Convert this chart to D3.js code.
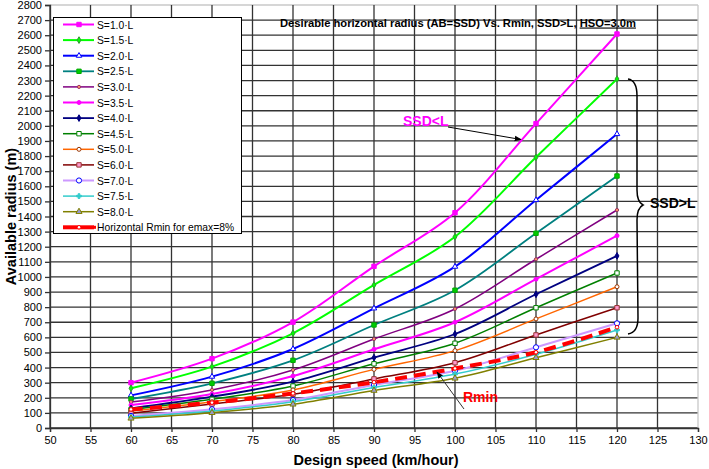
<!DOCTYPE html>
<html>
<head>
<meta charset="utf-8">
<script src="https://cdn.jsdelivr.net/npm/d3@7"></script>
<style>
  body { margin: 0; background: #fff; }
  svg { display: block; font-family: "Liberation Sans", Arial, sans-serif; }
</style>
</head>
<body>
<svg id="chart" width="709" height="469"></svg>
<script>
// design speeds (km/h)
const speeds = [60, 70, 80, 90, 100, 110, 120];

// available radius (m) for each S = k·L
const s10 = [300, 459, 701, 1070, 1425, 2015, 2608];
const s15 = [263, 406, 627, 947, 1266, 1792, 2310];
const s20 = [216, 340, 523, 792, 1068, 1509, 1946];
const s25 = [192, 296, 448, 682, 912, 1289, 1668];
const s30 = [172, 252, 384, 589, 788, 1117, 1443];
const s35 = [152, 225, 344, 521, 700, 985, 1273];
const s40 = [130, 207, 307, 466, 622, 885, 1139];
const s45 = [122, 190, 278, 425, 561, 796, 1026];
const s50 = [112, 174, 252, 388, 512, 722, 935];
const s60 = [97, 159, 223, 325, 432, 616, 796];
const s70 = [80, 124, 185, 285, 379, 534, 693];
const s75 = [72, 113, 174, 268, 357, 488, 649];
const s80 = [64, 101, 157, 248, 329, 465, 600];
const rmin = [123, 168, 229, 303, 394, 501, 667];

const seriesNames = ["S=1.0·L", "S=1.5·L", "S=2.0·L", "S=2.5·L", "S=3.0·L", "S=3.5·L", "S=4.0·L",
                     "S=4.5·L", "S=5.0·L", "S=6.0·L", "S=7.0·L", "S=7.5·L", "S=8.0·L",
                     "Horizontal Rmin for emax=8%"];
const xTicks = d3.range(50, 131, 5);
const yTicks = d3.range(0, 2801, 100);

const svg = d3.select("#chart");
const x = d3.scaleLinear().domain([50, 130]).range([50, 698]);
const y = d3.scaleLinear().domain([0, 2800]).range([428, 5]);

// line style + marker for each series
const styles = [
  { c: "#ff00ff", w: 2,   m: "square",   mf: "#ff00ff", ms: "#ff00ff", r: 2.2 },
  { c: "#00ff00", w: 2,   m: "diamond",  mf: "#00ff00", ms: "#339933", r: 1.8 },
  { c: "#0000ff", w: 2,   m: "triangle", mf: "#ffffff", ms: "#0000ff", r: 1.8 },
  { c: "#008080", w: 1.8, m: "square",   mf: "#00cc00", ms: "#00aa00", r: 2.2 },
  { c: "#800080", w: 1.5, m: "circle",   mf: "#ff9966", ms: "#993366", r: 1.6 },
  { c: "#ff00ff", w: 2,   m: "circle",   mf: "#ff00ff", ms: "#ff00ff", r: 2 },
  { c: "#000080", w: 1.8, m: "diamond",  mf: "#000080", ms: "#000080", r: 1.8 },
  { c: "#008000", w: 1.5, m: "square",   mf: "#ffffff", ms: "#008000", r: 2.2 },
  { c: "#ff6600", w: 1.5, m: "circle",   mf: "#ffffff", ms: "#993300", r: 2 },
  { c: "#800000", w: 1.5, m: "square",   mf: "#ff99cc", ms: "#993333", r: 2.2 },
  { c: "#cc99ff", w: 2,   m: "circle",   mf: "#ffffff", ms: "#0000ff", r: 2.6 },
  { c: "#33cccc", w: 1.5, m: "star",     mf: "#33cccc", ms: "#33cccc", r: 1.8 },
  { c: "#808000", w: 1.5, m: "triangle", mf: "#9999cc", ms: "#808000", r: 2 },
  { c: "#ff0000", w: 4,   m: "circle",   mf: "#ffffff", ms: "#ff0000", r: 1.8, dash: "12,7" }
];
const allSeries = [s10, s15, s20, s25, s30, s35, s40, s45, s50, s60, s70, s75, s80, rmin];

// grid
const grid = svg.append("g");
grid.selectAll("line.h").data(yTicks).enter().append("line")
  .attr("x1", x(50)).attr("x2", x(130))
  .attr("y1", d => y(d)).attr("y2", d => y(d))
  .attr("stroke", d => d === 2800 ? "#c8c8c8" : "#333")
  .attr("stroke-width", 1.3);
grid.selectAll("line.v").data(xTicks).enter().append("line")
  .attr("x1", d => x(d)).attr("x2", d => x(d))
  .attr("y1", y(0)).attr("y2", y(2800))
  .attr("stroke", d => d === 130 ? "#c8c8c8" : "#333")
  .attr("stroke-width", 1.3);

// axes
const yAxis = svg.append("g").attr("transform", `translate(${x(50)},0)`)
  .call(d3.axisLeft(y).tickValues(yTicks).tickSize(5).tickPadding(3).tickFormat(d3.format("d")));
const xAxis = svg.append("g").attr("transform", `translate(0,${y(0)})`)
  .call(d3.axisBottom(x).tickValues(xTicks).tickSize(4).tickPadding(4).tickFormat(d3.format("d")));
[yAxis, xAxis].forEach(a => {
  a.selectAll("path, line").attr("stroke", "#333").attr("stroke-width", 1.3);
  a.selectAll("text").attr("font-size", 11).attr("fill", "#000")
    .attr("font-family", "'Liberation Sans', Arial, sans-serif");
});

svg.append("text")
  .attr("transform", `translate(16,${(y(0) + y(2800)) / 2}) rotate(-90)`)
  .attr("text-anchor", "middle")
  .attr("font-size", 14.5).attr("font-weight", "bold")
  .text("Available radius (m)");
svg.append("text")
  .attr("x", 376).attr("y", 465)
  .attr("text-anchor", "middle")
  .attr("font-size", 14.5).attr("font-weight", "bold")
  .text("Design speed (km/hour)");

// markers
const symbolFor = { square: d3.symbolSquare, diamond: d3.symbolDiamond, triangle: d3.symbolTriangle,
                    circle: d3.symbolCircle, star: d3.symbolCross };
function drawMarker(g, st, cx, cy) {
  const size = st.m === "circle" ? Math.PI * st.r * st.r : (2 * st.r) * (2 * st.r);
  g.append("path")
    .attr("d", d3.symbol().type(symbolFor[st.m]).size(size)())
    .attr("transform", `translate(${cx},${cy})`)
    .attr("fill", st.mf).attr("stroke", st.ms).attr("stroke-width", 1);
}

const line = d3.line()
  .x((d, i) => x(speeds[i]))
  .y(d => y(d))
  .curve(d3.curveCatmullRom.alpha(0.5));

const plot = svg.append("g");
allSeries.forEach((vals, k) => {
  const st = styles[k];
  const g = plot.append("g");
  g.append("path")
    .attr("d", line(vals))
    .attr("fill", "none")
    .attr("stroke", st.c)
    .attr("stroke-width", st.w)
    .attr("stroke-dasharray", st.dash || null);
  vals.forEach((v, i) => drawMarker(g, st, x(speeds[i]), y(v)));
});

// legend
const lg = svg.append("g");
lg.append("rect").attr("x", 53.5).attr("y", 17.5).attr("width", 188).attr("height", 216)
  .attr("fill", "#fff").attr("stroke", "#000").attr("stroke-width", 1);
seriesNames.forEach((name, k) => {
  const st = styles[k];
  const ly = 24.5 + k * 15.6;
  const g = lg.append("g");
  g.append("line").attr("x1", 63).attr("x2", 94).attr("y1", ly).attr("y2", ly)
    .attr("stroke", st.c).attr("stroke-width", st.w);
  drawMarker(g, st, 79, ly);
  if (k === 13) {
    g.append("rect").attr("x", 93).attr("y", ly - 1.5).attr("width", 3).attr("height", 3).attr("fill", "#ff0000");
  }
  g.append("text").attr("x", 97).attr("y", ly + 4).attr("font-size", 10.3).text(name);
});

// title
const title = svg.append("text").attr("x", 280).attr("y", 26.5)
  .attr("font-size", 11.2).attr("font-weight", "bold");
title.append("tspan").text("Desirable horizontal radius (AB=SSD) Vs. Rmin, SSD>L, ");
title.append("tspan").attr("text-decoration", "underline").text("HSO=3.0m");

// annotations
const defs = svg.append("defs");
defs.append("marker").attr("id", "arrow").attr("viewBox", "0 0 10 10")
  .attr("refX", 9).attr("refY", 5).attr("markerWidth", 7).attr("markerHeight", 7)
  .attr("orient", "auto")
  .append("path").attr("d", "M0,1 L10,5 L0,9 Z").attr("fill", "#000");

svg.append("text").attr("x", 403).attr("y", 126)
  .attr("font-size", 14).attr("font-weight", "bold").attr("fill", "#ff00ff").text("SSD<L");
svg.append("line").attr("x1", 448).attr("y1", 127).attr("x2", 521).attr("y2", 139.5)
  .attr("stroke", "#000").attr("stroke-width", 1).attr("marker-end", "url(#arrow)");

svg.append("text").attr("x", 463).attr("y", 402)
  .attr("font-size", 14).attr("font-weight", "bold").attr("fill", "#ff0000").text("Rmin");
svg.append("line").attr("x1", 464).attr("y1", 409).attr("x2", 437).attr("y2", 372)
  .attr("stroke", "#333").attr("stroke-width", 1).attr("marker-end", "url(#arrow)");

svg.append("path")
  .attr("d", "M628,79 C635,80 637,86 637,96 L637,190 C637,198 639,203 643,205 C639,207 637,212 637,220 L638,318 C638,328 634,333 628,334")
  .attr("fill", "none").attr("stroke", "#000").attr("stroke-width", 1.5);
svg.append("text").attr("x", 650).attr("y", 208)
  .attr("font-size", 14).attr("font-weight", "bold").attr("fill", "#000").text("SSD>L");
</script>
</body>
</html>
